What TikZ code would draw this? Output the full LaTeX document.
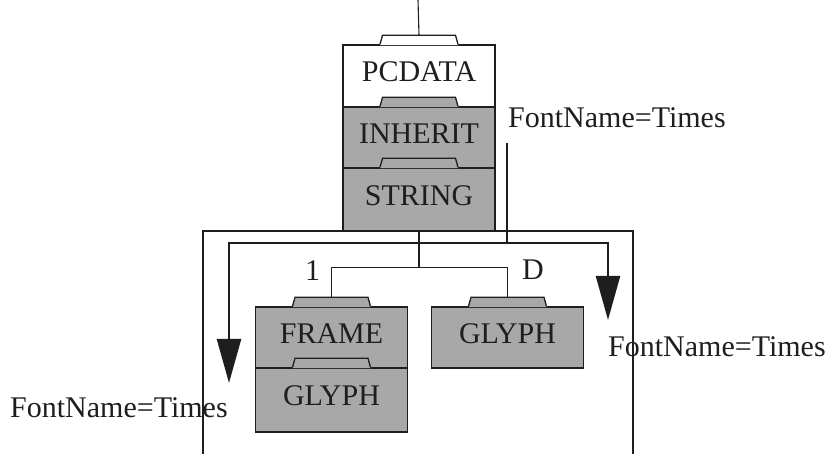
\documentclass[tikz,border=0pt]{standalone}
\usepackage{fontspec}
\setmainfont{Liberation Serif}
\usetikzlibrary{arrows.meta,calc}
\definecolor{boxgray}{RGB}{168,168,168}
\definecolor{ink}{RGB}{30,30,30}
\tikzset{
  tabbox/.style={draw=ink, line width=1.3pt, minimum width=152pt, inner sep=0pt,
    text height=20pt, text depth=8pt, font=\fontsize{30}{30}\selectfont, text=ink},
  tree/.style={draw=ink, line width=1.1pt},
  frameline/.style={draw=ink, line width=1.1pt},
  thickline/.style={draw=ink, line width=2.4pt, line join=miter},
  arr/.style={thickline, -{Triangle[length=44pt,width=24pt]}},
  lbl/.style={font=\fontsize{30}{30}\selectfont, text=ink, inner sep=0pt, anchor=base west},
}
\newcommand\tabnotch[3]{%
  \fill[#2] ($(#1.north)+(-39,-0.7)$) -- ($(#1.north)+(-39,0)$) -- ++(2.5,9) -- ++(73,0) -- ++(2.5,-9) -- ++(0,-0.7) -- cycle;
  \draw[draw=ink, line width=1.3pt] ($(#1.north)+(-39,0)$) -- ++(2.5,9) -- ++(73,0) -- ++(2.5,-9);
  \coordinate (#3) at ($(#1.north)+(0,9)$);
}
\begin{document}
\begin{tikzpicture}[x=1pt,y=1pt]
\useasboundingbox (0,0) rectangle (830,454);
% outer frame
\draw[frameline] (203,0) -- (203,223) -- (633,223) -- (633,0);
% stacked boxes
\node[tabbox, fill=white, minimum height=62pt] (pc) at (419,378) {PCDATA};
\tabnotch{pc}{white}{pcN}
\node[tabbox, fill=boxgray, minimum height=61pt] (inh) at (419,316.5) {INHERIT};
\tabnotch{inh}{boxgray}{inhN}
\node[tabbox, fill=boxgray, minimum height=63pt] (str) at (419,254.5) {STRING};
\tabnotch{str}{boxgray}{strN}
\node[tabbox, fill=boxgray, minimum height=61pt] (fr) at (331.5,116.5) {FRAME};
\tabnotch{fr}{boxgray}{frN}
\node[tabbox, fill=boxgray, minimum height=64pt] (g1) at (331.5,54) {GLYPH};
\tabnotch{g1}{boxgray}{g1N}
\node[tabbox, fill=boxgray, minimum height=61pt] (g2) at (507.5,116.5) {GLYPH};
\tabnotch{g2}{boxgray}{g2N}
% tree connectors
\coordinate (top) at (418,454);
\draw[tree] (top) -- (pcN);
\draw[tree] (str.south) -- ++(0,-36) coordinate (j);
\draw[tree] (frN) |- (j) -| (g2N);
\node[lbl] (one) at (305,173) {1};
\node[lbl] (dd) at (522,174) {D};
% labels
\node[lbl] (fn1) at (508,326) {FontName=Times};
\node[lbl] (fn2) at (608,97) {FontName=Times};
\node[lbl] (fn3) at (10,36) {FontName=Times};
% arrows
\coordinate (a0) at (507,311);
\coordinate (split) at (507,211);
\coordinate (tipL) at (229,71);
\coordinate (tipR) at (608,134);
\draw[thickline] (a0) -- (split);
\draw[arr] (split) -| (tipL);
\draw[arr] (split) -| (tipR);
\end{tikzpicture}
\end{document}
